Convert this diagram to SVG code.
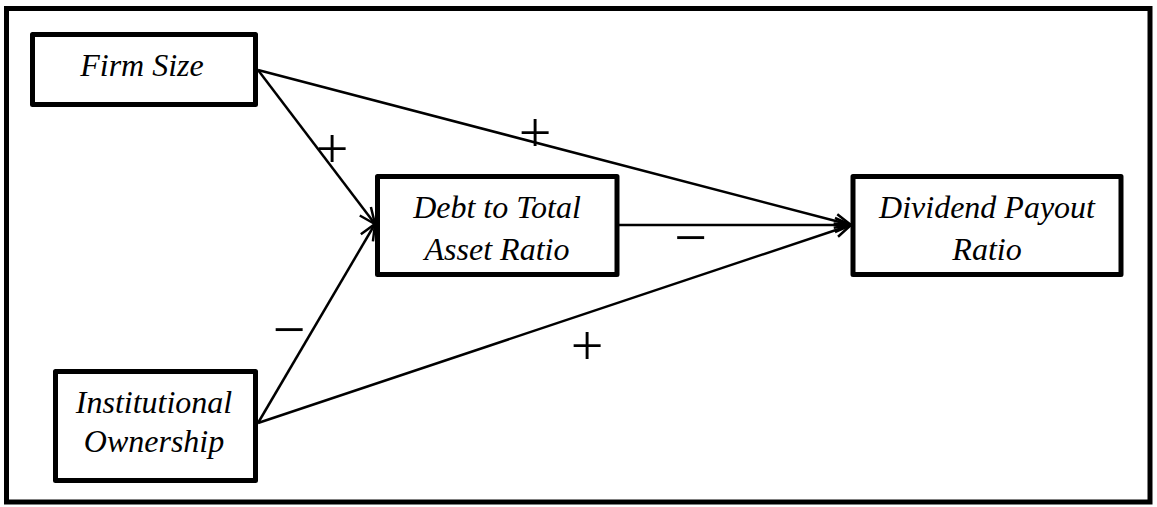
<svg xmlns="http://www.w3.org/2000/svg" width="1157" height="507" viewBox="0 0 1157 507">
<style>
.box{fill:#fff;stroke:#000;stroke-width:5;stroke-linejoin:round}
.conn{stroke:#000;stroke-width:2.5;fill:none;marker-end:url(#arr)}
</style>
<defs>
<marker id="arr" markerUnits="userSpaceOnUse" markerWidth="20" markerHeight="18" refX="17" refY="8" orient="auto" overflow="visible">
<path d="M1,1 L17,8 L1,15" fill="none" stroke="#000" stroke-width="2.5"/>
</marker>
</defs>
<rect x="6.5" y="8.5" width="1143.5" height="493.5" fill="#fff" stroke="#000" stroke-width="5"/>
<g id="connectors">
<line class="conn" x1="258" y1="70" x2="375" y2="224"/>
<line class="conn" x1="258" y1="423" x2="375" y2="224"/>
<line class="conn" x1="258" y1="70" x2="851" y2="225"/>
<line class="conn" x1="258" y1="423" x2="851" y2="225"/>
<line class="conn" x1="619" y1="225" x2="851" y2="225"/>
</g>
<g font-family="Liberation Serif, DejaVu Serif, serif" font-style="italic" font-size="32" text-anchor="middle" fill="#000">
<g id="firm-size">
<rect class="box" x="32.5" y="34.5" width="223" height="70"/>
<text x="142" y="76">Firm Size</text>
</g>
<g id="debt-ratio">
<rect class="box" x="377.5" y="176.5" width="239.5" height="98"/>
<text x="497" y="218">Debt to Total</text>
<text x="497" y="260">Asset Ratio</text>
</g>
<g id="dividend-payout">
<rect class="box" x="853" y="176.5" width="268" height="98"/>
<text x="987" y="218">Dividend Payout</text>
<text x="987" y="260">Ratio</text>
</g>
<g id="institutional-ownership">
<rect class="box" x="55.5" y="371.5" width="200" height="109"/>
<text x="154" y="413">Institutional</text>
<text x="154" y="452">Ownership</text>
</g>
</g>
<g id="signs" font-family="Liberation Serif, DejaVu Serif, serif" font-size="58" text-anchor="middle" fill="#000">
<text x="332" y="168">+</text>
<text x="535" y="152">+</text>
<text x="690.5" y="257">−</text>
<text x="289" y="349">−</text>
<text x="587" y="365">+</text>
</g>
</svg>
